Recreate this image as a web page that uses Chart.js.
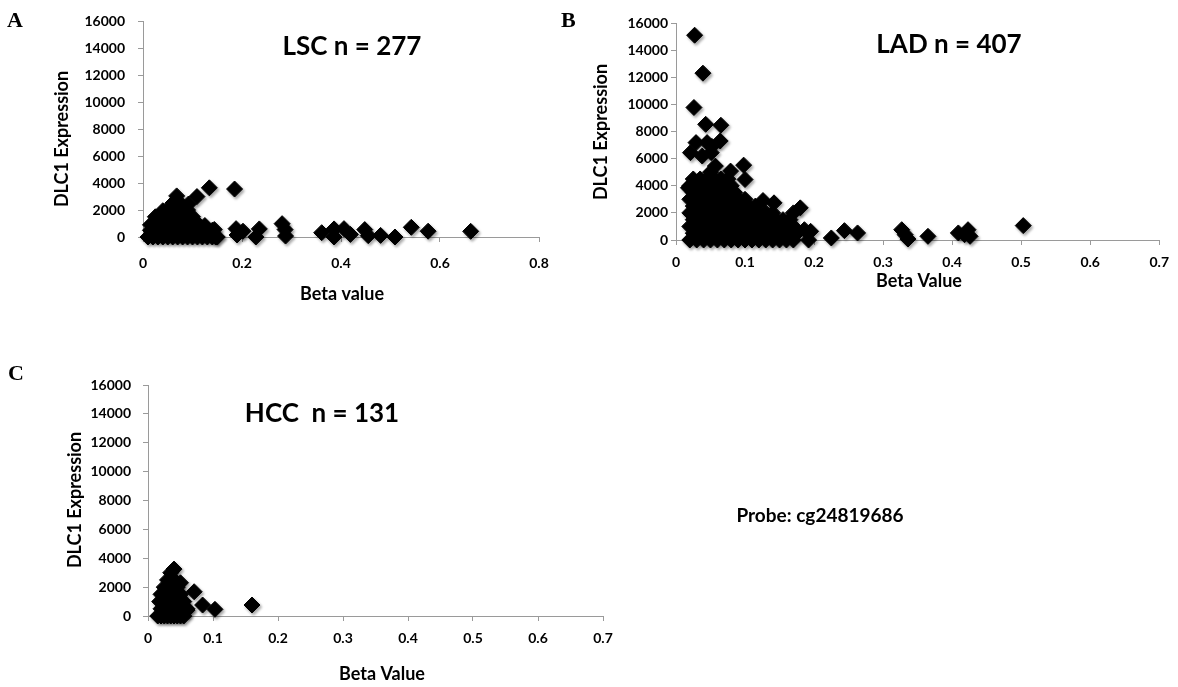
<!DOCTYPE html>
<html>
<head>
<meta charset="utf-8">
<script src="https://cdn.jsdelivr.net/npm/chart.js@4.4.1/dist/chart.umd.min.js"></script>
<style>
html, body { margin: 0; padding: 0; background: #fff; }
body { width: 1178px; height: 687px; position: relative; overflow: hidden; }
canvas { position: absolute; }
</style>
</head>
<body>
<canvas id="lsc" width="569" height="320" style="left:0px;top:0px"></canvas>
<canvas id="lad" width="618" height="300" style="left:560px;top:0px"></canvas>
<canvas id="hcc" width="1178" height="327" style="left:0px;top:360px"></canvas>
<script>
// tick values shared by the three panels
const exprTicks = [0, 2000, 4000, 6000, 8000, 10000, 12000, 14000, 16000];
const lscBetaTicks = [0, 0.2, 0.4, 0.6, 0.8];
const ladBetaTicks = [0, 0.1, 0.2, 0.3, 0.4, 0.5, 0.6, 0.7];
const hccBetaTicks = [0, 0.1, 0.2, 0.3, 0.4, 0.5, 0.6, 0.7];

// [beta value, DLC1 expression]
const lscPoints = [
    [0.01,0],[0.02,0],[0.03,0],[0.04,0],[0.05,0],[0.06,0],[0.07,0],[0.08,0],[0.09,0],[0.10,0],[0.11,0],[0.12,0],[0.13,0],[0.14,0],[0.15,0],
    [0.015,500],[0.02,500],[0.03,500],[0.04,500],[0.05,500],[0.06,500],[0.07,500],[0.08,500],[0.09,500],[0.10,500],[0.11,500],[0.12,500],[0.13,500],[0.14,500],
    [0.015,900],[0.02,1000],[0.03,1000],[0.04,1000],[0.05,1000],[0.06,1000],[0.07,1000],[0.08,1000],[0.09,1000],[0.10,1000],[0.11,1000],[0.125,850],
    [0.025,1500],[0.04,1500],[0.05,1500],[0.06,1500],[0.07,1500],[0.08,1500],[0.09,1500],[0.10,1500],
    [0.04,1950],[0.05,2000],[0.06,2000],[0.07,2000],[0.08,2000],[0.09,2000],
    [0.06,2500],[0.07,2500],[0.075,2500],
    [0.068,3050],[0.092,2450],[0.109,3000],[0.134,3650],[0.185,3560],
    [0.144,560],[0.147,0],[0.188,620],[0.19,150],[0.202,430],[0.228,0],[0.235,600],
    [0.281,990],[0.287,550],[0.288,70],[0.361,320],[0.386,600],[0.386,0],[0.406,620],
    [0.419,190],[0.448,550],[0.455,100],[0.48,120],[0.509,0],[0.542,720],[0.576,430],[0.662,420]
];

const ladPoints = [
    [0.02,0],[0.03,0],[0.04,0],[0.05,0],[0.06,0],[0.07,0],[0.08,0],[0.09,0],[0.10,0],[0.11,0],[0.12,0],[0.13,0],[0.14,0],[0.15,0],[0.16,0],[0.17,0],
    [0.025,500],[0.035,500],[0.045,500],[0.055,500],[0.065,500],[0.075,500],[0.085,500],[0.095,500],[0.105,500],[0.115,500],[0.125,500],[0.135,500],[0.145,500],[0.155,500],[0.165,500],[0.175,500],
    [0.02,1000],[0.03,1000],[0.04,1000],[0.05,1000],[0.06,1000],[0.07,1000],[0.08,1000],[0.09,1000],[0.10,1000],[0.11,1000],[0.12,1000],[0.13,1000],[0.14,1000],[0.15,1000],[0.16,1000],[0.17,1000],
    [0.025,1500],[0.035,1500],[0.045,1500],[0.055,1500],[0.065,1500],[0.075,1500],[0.085,1500],[0.095,1500],[0.105,1500],[0.115,1500],[0.125,1500],[0.135,1500],[0.145,1500],[0.155,1500],[0.165,1500],
    [0.02,2000],[0.03,2000],[0.04,2000],[0.05,2000],[0.06,2000],[0.07,2000],[0.08,2000],[0.09,2000],[0.10,2000],[0.11,2000],[0.12,2000],[0.13,2000],[0.14,2000],
    [0.025,2500],[0.035,2500],[0.045,2500],[0.055,2500],[0.065,2500],[0.075,2500],[0.085,2500],[0.095,2500],[0.105,2500],[0.115,2500],
    [0.02,3000],[0.03,3000],[0.04,3000],[0.05,3000],[0.06,3000],[0.07,3000],[0.08,3000],[0.09,3000],[0.10,3000],
    [0.025,3500],[0.035,3500],[0.045,3500],[0.055,3500],[0.065,3500],[0.075,3500],[0.085,3500],
    [0.02,4000],[0.03,4000],[0.04,4000],[0.05,4000],[0.06,4000],[0.07,4000],[0.08,4000],
    [0.025,4500],[0.035,4500],[0.045,4500],[0.055,4500],[0.065,4500],[0.075,4500],
    [0.05,5000],[0.057,5450],[0.079,5080],[0.098,5520],[0.10,4460],[0.018,3850],
    [0.027,15100],[0.039,12300],[0.026,9770],[0.043,8530],[0.065,8460],[0.064,7300],
    [0.045,7180],[0.029,7180],[0.052,6900],[0.021,6440],[0.038,6190],[0.051,6440],
    [0.126,2910],[0.142,2740],[0.18,2370],[0.17,2000],[0.186,760],[0.195,640],[0.192,0],
    [0.225,150],[0.244,690],[0.263,520],[0.327,760],[0.332,390],[0.336,70],[0.365,270],
    [0.409,520],[0.418,390],[0.423,760],[0.426,270],[0.503,1060]
];

const hccPoints = [
    [0.015,0],[0.02,0],[0.025,0],[0.03,0],[0.035,0],[0.04,0],[0.045,0],[0.05,0],[0.055,0],
    [0.02,500],[0.025,500],[0.03,500],[0.035,500],[0.04,500],[0.045,500],[0.05,500],[0.055,500],[0.06,500],
    [0.018,1000],[0.025,1000],[0.03,1000],[0.035,1000],[0.04,1000],[0.045,1000],[0.05,1000],[0.055,1000],
    [0.02,1500],[0.025,1500],[0.03,1500],[0.035,1500],[0.04,1500],[0.045,1500],[0.05,1500],
    [0.025,2000],[0.03,2000],[0.035,2000],[0.04,2000],[0.045,2000],
    [0.03,2500],[0.04,2500],[0.05,2300],
    [0.035,3000],[0.04,3250],
    [0.071,1680],[0.084,760],[0.103,460],[0.06,410],[0.16,760]
];

const axisGray = '#9a9a9a';
const tickFont = { family: 'Lato', weight: 'bold', size: 14 };

const panelText = {
    id: 'panelText',
    afterDraw(chart, args, opts) {
        const ctx = chart.ctx;
        (opts.items || []).forEach(function (t) {
            ctx.save();
            ctx.font = t.font;
            ctx.fillStyle = '#000';
            ctx.textAlign = t.align || 'center';
            ctx.textBaseline = t.baseline || 'alphabetic';
            ctx.translate(t.x, t.y);
            if (t.rotate) {
                ctx.rotate(t.rotate);
            }
            ctx.fillText(t.text, 0, 0);
            ctx.restore();
        });
    }
};

// soft drop shadow under the diamonds, like the original figure
const markerShadow = {
    id: 'markerShadow',
    beforeDatasetsDraw(chart) {
        const ctx = chart.ctx;
        ctx.save();
        ctx.shadowColor = 'rgba(0,0,0,0.35)';
        ctx.shadowBlur = 3;
        ctx.shadowOffsetX = 1.5;
        ctx.shadowOffsetY = 2;
    },
    afterDatasetsDraw(chart) {
        chart.ctx.restore();
    }
};

function createScatter(element, points, betaTicks, box, texts) {
    const config = {
        type: 'scatter',
        data: {
            datasets: [{
                data: points.map(p => ({ x: p[0], y: p[1] })),
                pointStyle: 'rectRot',
                pointRadius: 8,
                backgroundColor: '#000',
                borderColor: '#000',
                borderWidth: 1,
                clip: false,
            }]
        },
        options: {
            responsive: false,
            animation: false,
            events: [],
            layout: {
                padding: { top: box.top, right: box.right, left: 0, bottom: 0 }
            },
            plugins: {
                legend: { display: false },
                tooltip: { enabled: false },
                panelText: { items: texts },
            },
            scales: {
                x: {
                    type: 'linear',
                    min: betaTicks[0],
                    max: betaTicks[betaTicks.length - 1],
                    afterFit: function (scale) { scale.height = box.xHeight; },
                    ticks: {
                        stepSize: betaTicks[1] - betaTicks[0],
                        padding: box.xPad,
                        color: '#000',
                        font: tickFont,
                    },
                    grid: { drawOnChartArea: false, drawTicks: true, tickLength: 5, color: axisGray },
                    border: { color: axisGray, width: 1 },
                },
                y: {
                    type: 'linear',
                    min: exprTicks[0],
                    max: exprTicks[exprTicks.length - 1],
                    afterFit: function (scale) { scale.width = box.yWidth; },
                    ticks: {
                        stepSize: exprTicks[1] - exprTicks[0],
                        padding: box.yPad,
                        color: '#000',
                        font: tickFont,
                        callback: v => String(v),
                    },
                    grid: { drawOnChartArea: false, drawTicks: true, tickLength: 5, color: axisGray },
                    border: { color: axisGray, width: 1 },
                }
            }
        },
        plugins: [markerShadow, panelText]
    };
    return new Chart(element, config);
}

const letterFont = 'bold 22px "Liberation Serif"';
const headFont = 'bold 26px Lato';
const axisFont = 'bold 18px Lato';
const up = -Math.PI / 2;

createScatter(document.getElementById('lsc'), lscPoints, lscBetaTicks,
    { top: 16, right: 30, yWidth: 143, xHeight: 83, yPad: 13, xPad: 13 },
    [
        { text: 'A', font: letterFont, x: 7, y: 27, align: 'left' },
        { text: 'LSC n = 277', font: headFont, x: 352, y: 55 },
        { text: 'DLC1 Expression', font: axisFont, x: 62, y: 139, rotate: up, baseline: 'middle' },
        { text: 'Beta value', font: axisFont, x: 342, y: 300 },
    ]);

createScatter(document.getElementById('lad'), ladPoints, ladBetaTicks,
    { top: 23, right: 16, yWidth: 116, xHeight: 60, yPad: 3, xPad: 9 },
    [
        { text: 'B', font: letterFont, x: 1, y: 27, align: 'left' },
        { text: 'LAD n = 407', font: headFont, x: 389, y: 53 },
        { text: 'DLC1 Expression', font: axisFont, x: 41, y: 132, rotate: up, baseline: 'middle' },
        { text: 'Beta Value', font: axisFont, x: 359, y: 287 },
    ]);

createScatter(document.getElementById('hcc'), hccPoints, hccBetaTicks,
    { top: 25, right: 575, yWidth: 148, xHeight: 71, yPad: 12, xPad: 9 },
    [
        { text: 'C', font: letterFont, x: 8, y: 20, align: 'left' },
        { text: 'HCC  n = 131', font: headFont, x: 322, y: 62 },
        { text: 'DLC1 Expression', font: axisFont, x: 75, y: 140, rotate: up, baseline: 'middle' },
        { text: 'Beta Value', font: axisFont, x: 382, y: 320 },
        { text: 'Probe: cg24819686', font: 'bold 19px Lato', x: 820, y: 162 },
    ]);
</script>
</body>
</html>
